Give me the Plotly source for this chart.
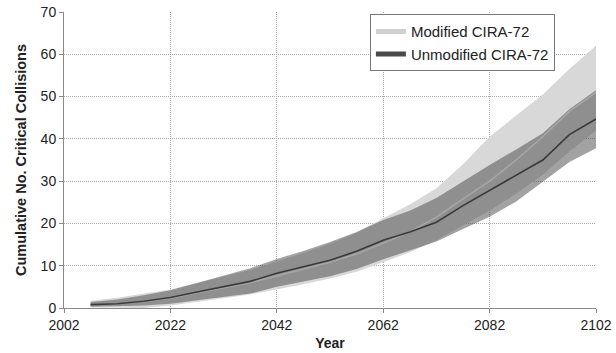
import plotly.graph_objects as go

years = [2007, 2012, 2017, 2022, 2027, 2032, 2037, 2042, 2047, 2052,
         2057, 2062, 2067, 2072, 2077, 2082, 2087, 2092, 2097, 2102]

unmod_mean = [0.8, 1.0, 1.6, 2.5, 3.8, 5.0, 6.3, 8.2, 9.8, 11.3,
              13.4, 16.0, 18.0, 20.3, 24.2, 27.8, 31.2, 35.0, 41.0, 44.7]
unmod_upper = [1.4, 2.0, 3.0, 4.2, 5.9, 7.6, 9.4, 11.6, 13.5, 15.6,
               18.0, 20.8, 23.0, 26.0, 30.0, 33.8, 37.5, 41.3, 47.0, 51.5]
unmod_lower = [0.3, 0.4, 0.6, 1.0, 1.8, 2.7, 3.4, 5.0, 6.2, 7.5,
               9.2, 11.5, 13.6, 15.7, 18.7, 21.6, 25.2, 29.9, 34.5, 37.8]

mod_mean = [0.8, 1.0, 1.5, 2.3, 3.6, 4.8, 6.0, 7.6, 9.2, 10.8,
            12.8, 15.3, 18.0, 21.5, 25.8, 30.0, 35.0, 40.5, 46.5, 51.0]
mod_upper = [1.7, 2.4, 3.4, 4.4, 5.9, 7.4, 9.0, 11.0, 13.0, 15.2,
             17.8, 21.2, 24.5, 28.3, 34.0, 40.5, 45.5, 50.5, 56.5, 62.0]
mod_lower = [0.1, 0.0, 0.0, 0.6, 1.4, 2.3, 3.2, 4.4, 5.6, 7.0,
             8.6, 10.8, 13.2, 16.0, 19.5, 23.0, 27.0, 31.5, 37.0, 42.0]

series_names = ["Modified CIRA-72", "Unmodified CIRA-72"]
x_ticks = [2002, 2022, 2042, 2062, 2082, 2102]
y_ticks = [0, 10, 20, 30, 40, 50, 60, 70]

fig = go.Figure()

# Modified band (light)
fig.add_trace(go.Scatter(x=years, y=mod_upper, mode="lines", line=dict(width=0),
                         showlegend=False, hoverinfo="skip"))
fig.add_trace(go.Scatter(x=years, y=mod_lower, mode="lines", line=dict(width=0),
                         fill="tonexty", fillcolor="#d8d8d8",
                         showlegend=False, hoverinfo="skip"))
# Unmodified band (semi-transparent dark)
fig.add_trace(go.Scatter(x=years, y=unmod_upper, mode="lines", line=dict(width=0),
                         showlegend=False, hoverinfo="skip"))
fig.add_trace(go.Scatter(x=years, y=unmod_lower, mode="lines", line=dict(width=0),
                         fill="tonexty", fillcolor="rgba(70,70,70,0.5)",
                         showlegend=False, hoverinfo="skip"))
# Mean lines
fig.add_trace(go.Scatter(x=years, y=mod_mean, mode="lines",
                         line=dict(color="#a6a6a6", width=1.6), showlegend=False))
fig.add_trace(go.Scatter(x=years, y=unmod_mean, mode="lines",
                         line=dict(color="#3a3a3a", width=1.6), showlegend=False))

# Legend entries
fig.add_trace(go.Scatter(x=[None], y=[None], mode="lines", name=series_names[0],
                         line=dict(color="#d0d0d0", width=5)))
fig.add_trace(go.Scatter(x=[None], y=[None], mode="lines", name=series_names[1],
                         line=dict(color="#4a4a4a", width=5)))

fig.update_layout(
    width=616, height=353,
    margin=dict(l=64, r=20, t=12, b=45),
    paper_bgcolor="white", plot_bgcolor="white",
    font=dict(family="Liberation Sans, Arial, sans-serif", size=14, color="#222"),
    showlegend=True,
    legend=dict(x=0.575, y=0.992, xanchor="left", yanchor="top",
                traceorder="normal",
                bgcolor="white", bordercolor="#777", borderwidth=1,
                font=dict(size=15, color="#222"), tracegroupgap=0,
                itemwidth=30),
)
fig.update_xaxes(range=[2002, 2102], tickvals=x_ticks, ticktext=[str(v) for v in x_ticks],
                 showgrid=True, gridcolor="#a8a8a8", griddash="1px,1px", gridwidth=1,
                 showline=True, linecolor="#8a8a8a", linewidth=1,
                 ticks="outside", ticklen=4, tickcolor="#8a8a8a",
                 zeroline=False, automargin=False,
                 tickfont=dict(size=14),
                 title=dict(text="<b>Year</b>", standoff=6, font=dict(size=14)))
fig.update_yaxes(range=[0, 70], tickvals=y_ticks,
                 showgrid=True, gridcolor="#a8a8a8", griddash="1px,1px", gridwidth=1,
                 showline=True, linecolor="#8a8a8a", linewidth=1,
                 ticks="outside", ticklen=4, tickcolor="#8a8a8a",
                 zeroline=False, automargin=False,
                 tickfont=dict(size=14),
                 title=dict(text="<b>Cumulative No. Critical Collisions</b>", standoff=10,
                            font=dict(size=14.5)))

fig.write_html(
    "out.html",
    config={"displayModeBar": False},
    post_script="document.body.style.margin='0';document.body.style.overflow='hidden';"
                "document.documentElement.style.overflow='hidden';",
)
